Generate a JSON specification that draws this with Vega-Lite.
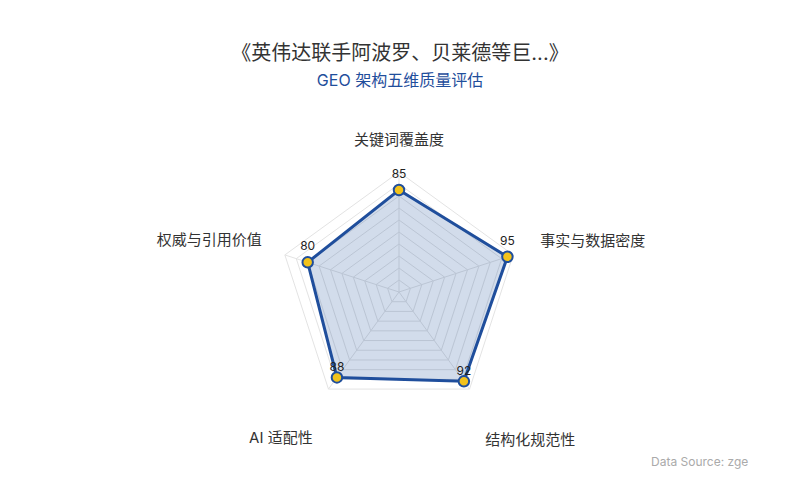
{
  "$schema": "https://vega.github.io/schema/vega-lite/v6.json",
  "width": 800,
  "height": 390,
  "autosize": {"type": "none"},
  "padding": {"top": 110, "left": 0, "right": 0, "bottom": 0},
  "background": "white",
  "title": {
    "text": "《英伟达联手阿波罗、贝莱德等巨...》",
    "subtitle": "GEO 架构五维质量评估",
    "anchor": "middle",
    "font": "Inter, Noto Sans CJK SC, sans-serif",
    "fontSize": 20,
    "fontWeight": "normal",
    "color": "#333333",
    "subtitleFont": "Inter, Noto Sans CJK SC, sans-serif",
    "subtitleFontSize": 16,
    "subtitleColor": "#1f4e9c",
    "subtitlePadding": 9,
    "offset": 21
  },
  "config": {
    "view": {"stroke": null},
    "text": {"font": "Inter, Noto Sans CJK SC, sans-serif"}
  },
  "datasets": {
    "scores": [
      {"axis": "关键词覆盖度", "i": 0, "score": 85},
      {"axis": "事实与数据密度", "i": 1, "score": 95},
      {"axis": "结构化规范性", "i": 2, "score": 92},
      {"axis": "AI 适配性", "i": 3, "score": 88},
      {"axis": "权威与引用价值", "i": 4, "score": 80}
    ],
    "grid": [
      {"i": 0, "levels": [10, 20, 30, 40, 50, 60, 70, 80, 90, 100]},
      {"i": 1, "levels": [10, 20, 30, 40, 50, 60, 70, 80, 90, 100]},
      {"i": 2, "levels": [10, 20, 30, 40, 50, 60, 70, 80, 90, 100]},
      {"i": 3, "levels": [10, 20, 30, 40, 50, 60, 70, 80, 90, 100]},
      {"i": 4, "levels": [10, 20, 30, 40, 50, 60, 70, 80, 90, 100]}
    ],
    "note": [
      {"note": "Data Source: zgeo.com", "nx": 210, "ny": -141.7}
    ]
  },
  "layer": [
    {
      "data": {"name": "grid"},
      "transform": [
        {"flatten": ["levels"], "as": ["level"]},
        {"calculate": "PI / 2 - datum.i * 2 * PI / 5", "as": "a"},
        {"calculate": "datum.level * cos(datum.a)", "as": "gx"},
        {"calculate": "datum.level * sin(datum.a)", "as": "gy"}
      ],
      "mark": {"type": "line", "interpolate": "linear-closed", "stroke": "#e3e3e3", "strokeWidth": 1},
      "encoding": {
        "x": {"field": "gx", "type": "quantitative", "scale": {"domain": [-332.5, 334.17], "nice": false, "zero": false}, "axis": null},
        "y": {"field": "gy", "type": "quantitative", "scale": {"domain": [-173.33, 151.67], "nice": false, "zero": false}, "axis": null},
        "detail": {"field": "level", "type": "nominal"},
        "order": {"field": "i", "type": "quantitative"}
      }
    },
    {
      "data": {"name": "scores"},
      "transform": [
        {"calculate": "PI / 2 - datum.i * 2 * PI / 5", "as": "a"},
        {"calculate": "100 * cos(datum.a)", "as": "ex"},
        {"calculate": "100 * sin(datum.a)", "as": "ey"},
        {"calculate": "0", "as": "z"}
      ],
      "mark": {"type": "rule", "stroke": "#e3e3e3", "strokeWidth": 1},
      "encoding": {
        "x": {"field": "z", "type": "quantitative"},
        "y": {"field": "z", "type": "quantitative"},
        "x2": {"field": "ex"},
        "y2": {"field": "ey"}
      }
    },
    {
      "data": {"name": "scores"},
      "transform": [
        {"calculate": "PI / 2 - datum.i * 2 * PI / 5", "as": "a"},
        {"calculate": "datum.score * cos(datum.a)", "as": "px"},
        {"calculate": "datum.score * sin(datum.a)", "as": "py"}
      ],
      "layer": [
        {
          "mark": {"type": "line", "interpolate": "linear-closed", "stroke": "#1f4e9c", "strokeWidth": 3, "fill": "#1f4e9c", "fillOpacity": 0.2},
          "encoding": {
            "x": {"field": "px", "type": "quantitative"},
            "y": {"field": "py", "type": "quantitative"},
            "order": {"field": "i", "type": "quantitative"}
          }
        },
        {
          "mark": {"type": "point", "filled": true, "fill": "#f2c21b", "stroke": "#1f4e9c", "strokeWidth": 2, "size": 110, "opacity": 1},
          "encoding": {
            "x": {"field": "px", "type": "quantitative"},
            "y": {"field": "py", "type": "quantitative"}
          }
        },
        {
          "transform": [{"filter": "datum.i == 0 || datum.i == 1 || datum.i == 4"}],
          "mark": {"type": "text", "fontSize": 12, "color": "#222222", "dy": -16},
          "encoding": {
            "x": {"field": "px", "type": "quantitative"},
            "y": {"field": "py", "type": "quantitative"},
            "text": {"field": "score", "type": "quantitative"}
          }
        },
        {
          "transform": [{"filter": "datum.i == 2 || datum.i == 3"}],
          "mark": {"type": "text", "fontSize": 12, "color": "#222222", "dy": -10},
          "encoding": {
            "x": {"field": "px", "type": "quantitative"},
            "y": {"field": "py", "type": "quantitative"},
            "text": {"field": "score", "type": "quantitative"}
          }
        }
      ]
    },
    {
      "data": {"name": "scores"},
      "transform": [
        {"calculate": "PI / 2 - datum.i * 2 * PI / 5", "as": "a"},
        {"calculate": "116.7 * cos(datum.a)", "as": "lx"},
        {"calculate": "116.7 * sin(datum.a)", "as": "ly"}
      ],
      "encoding": {
        "x": {"field": "lx", "type": "quantitative"},
        "y": {"field": "ly", "type": "quantitative"},
        "text": {"field": "axis", "type": "nominal"}
      },
      "layer": [
        {
          "transform": [{"filter": "datum.i == 0"}],
          "mark": {"type": "text", "fontSize": 15, "color": "#333333", "align": "center", "dy": -12}
        },
        {
          "transform": [{"filter": "datum.i == 1"}],
          "mark": {"type": "text", "fontSize": 15, "color": "#333333", "align": "left", "dx": 8, "dy": -8}
        },
        {
          "transform": [{"filter": "datum.i == 2"}],
          "mark": {"type": "text", "fontSize": 15, "color": "#333333", "align": "left", "dx": 4, "dy": 35}
        },
        {
          "transform": [{"filter": "datum.i == 3"}],
          "mark": {"type": "text", "fontSize": 15, "color": "#333333", "align": "right", "dx": -4, "dy": 33}
        },
        {
          "transform": [{"filter": "datum.i == 4"}],
          "mark": {"type": "text", "fontSize": 15, "color": "#333333", "align": "right", "dx": -4, "dy": -9}
        }
      ]
    },
    {
      "data": {"name": "note"},
      "mark": {"type": "text", "fontSize": 12, "color": "#aaaaaa", "align": "left", "limit": 100, "ellipsis": "\u200b"},
      "encoding": {
        "x": {"field": "nx", "type": "quantitative"},
        "y": {"field": "ny", "type": "quantitative"},
        "text": {"field": "note", "type": "nominal"}
      }
    }
  ]
}
